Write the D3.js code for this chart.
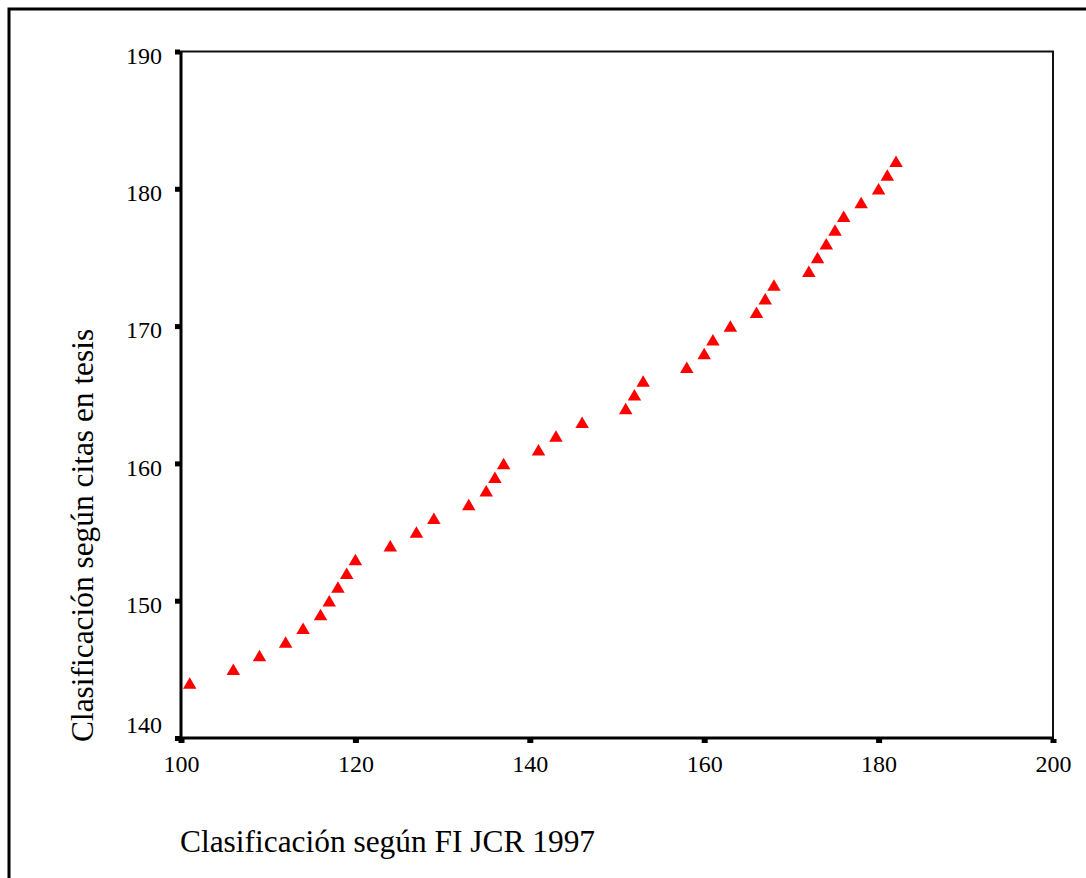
<!DOCTYPE html>
<html>
<head>
<meta charset="utf-8">
<script src="https://cdn.jsdelivr.net/npm/d3@7"></script>
<style>
  html, body { margin: 0; padding: 0; background: #fff; }
  svg { display: block; }
  text { font-family: "Liberation Serif", "Times New Roman", serif; fill: #000; }
</style>
</head>
<body>
<script>
// Ranking of journals: JCR 1997 impact factor rank vs. rank by thesis citations
const rankJCR = [101, 106, 109, 112, 114, 116, 117, 118, 119, 120,
                 124, 127, 129, 133, 135, 136, 137, 141, 143, 146,
                 151, 152, 153, 158, 160, 161, 163, 166, 167, 168,
                 172, 173, 174, 175, 176, 178, 180, 181, 182];
const rankThesis = [144, 145, 146, 147, 148, 149, 150, 151, 152, 153,
                    154, 155, 156, 157, 158, 159, 160, 161, 162, 163,
                    164, 165, 166, 167, 168, 169, 170, 171, 172, 173,
                    174, 175, 176, 177, 178, 179, 180, 181, 182];
const xTicks = [100, 120, 140, 160, 180, 200];
const yTicks = [140, 150, 160, 170, 180, 190];
const xTitle = "Clasificación según FI JCR 1997";
const yTitle = "Clasificación según citas en tesis";

const W = 1086, H = 878;
const plot = { left: 181, right: 1053, top: 51.5, bottom: 738 };
const serif = '"Liberation Serif", "Times New Roman", serif';

const svg = d3.select("body").append("svg")
  .attr("width", W).attr("height", H);

// outer frame (top and left edges)
svg.append("path")
  .attr("d", `M9,${H} V9 H${W}`)
  .attr("fill", "none").attr("stroke", "#000").attr("stroke-width", 3);

const x = d3.scaleLinear().domain([100, 200]).range([plot.left, plot.right]);
const y = d3.scaleLinear().domain([140, 190]).range([plot.bottom, plot.top]);

// plot box
svg.append("rect")
  .attr("x", plot.left).attr("y", plot.top)
  .attr("width", plot.right - plot.left).attr("height", plot.bottom - plot.top)
  .attr("fill", "none").attr("stroke", "#111").attr("stroke-width", 2);
// heavier left and bottom axis lines
svg.append("line")
  .attr("x1", plot.left).attr("x2", plot.left)
  .attr("y1", plot.top).attr("y2", plot.bottom + 1)
  .attr("stroke", "#000").attr("stroke-width", 3);
svg.append("line")
  .attr("x1", plot.left).attr("x2", plot.right)
  .attr("y1", plot.bottom).attr("y2", plot.bottom)
  .attr("stroke", "#000").attr("stroke-width", 3);

const xAxis = svg.append("g")
  .attr("transform", `translate(0,${plot.bottom + 1})`)
  .call(d3.axisBottom(x).tickValues(xTicks).tickSize(4).tickSizeOuter(0).tickPadding(12));
const yAxis = svg.append("g")
  .attr("transform", `translate(${plot.left - 1},0)`)
  .call(d3.axisLeft(y).tickValues(yTicks).tickSize(5).tickSizeOuter(0).tickPadding(13));

[xAxis, yAxis].forEach(g => {
  g.attr("font-family", serif).attr("font-size", 24);
  g.select(".domain").remove();
  g.selectAll(".tick line").attr("stroke", "#000").attr("stroke-width", 5);
  g.selectAll(".tick text").attr("fill", "#000");
});
xAxis.selectAll(".tick line").attr("stroke-width", 6);
// labels sit a little below their ticks; the lowest one is lifted clear of the x axis
yAxis.selectAll(".tick text")
  .attr("dy", "0.36em")
  .attr("y", d => d === yTicks[0] ? -14 : 3);

// triangle markers centred on each point
const tw = 13.5, th = 11.5;
svg.append("g").selectAll("path")
  .data(rankJCR.map((v, i) => [v, rankThesis[i]]))
  .join("path")
  .attr("transform", d => `translate(${x(d[0])},${y(d[1])})`)
  .attr("d", `M0,${-th / 2} L${tw / 2},${th / 2} L${-tw / 2},${th / 2} Z`)
  .attr("fill", "#ff0000");

// axis titles
svg.append("text")
  .attr("x", plot.left - 1).attr("y", 852)
  .attr("font-family", serif).attr("font-size", 31.4)
  .text(xTitle);
svg.append("text")
  .attr("transform", `translate(93,742) rotate(-90)`)
  .attr("font-family", serif).attr("font-size", 31.4)
  .text(yTitle);
</script>
</body>
</html>
